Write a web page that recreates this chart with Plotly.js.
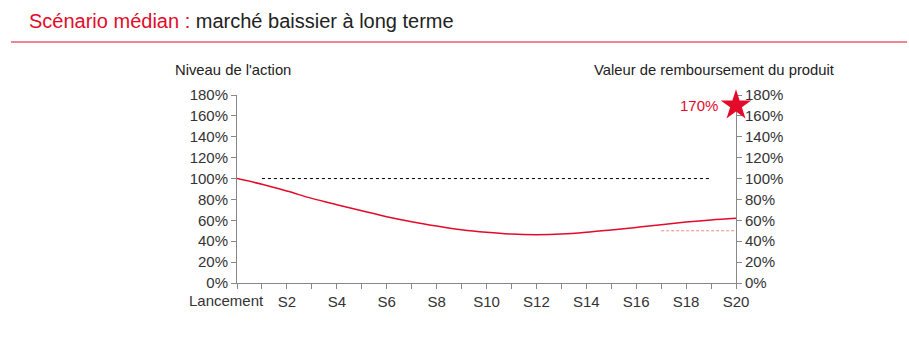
<!DOCTYPE html>
<html>
<head>
<meta charset="utf-8">
<script src="https://cdn.plot.ly/plotly-3.0.1.min.js"></script>
<style>html,body{margin:0;padding:0;background:#fff;}#chart{width:909px;height:339px;}</style>
</head>
<body>
<div id="chart"></div>
<script>
// Semesters 0 (Lancement) .. 20 (S20)
const semesters = [0,1,2,3,4,5,6,7,8,9,10,11,12,13,14,15,16,17,18,19,20];
const tickLabels = ["Lancement","","S2","","S4","","S6","","S8","","S10","","S12","","S14","","S16","","S18","","S20"];
// Niveau de l'action (%)
const stockLevel = [100,94.5,88,81,75,69.2,63.5,58.7,54.6,51,48.5,46.8,46.3,46.8,48.5,50.8,53.2,55.8,58.3,60.4,62];
// Barrière de remboursement (100%) de S1 à S19
const barrierX = [1,19];
const barrierY = [100,100];
// Barrière de protection (50%) de S17 à S20
const protectX = [17,20];
const protectY = [50,50];
// Valeur de remboursement du produit
const payoffX = [20];
const payoffY = [170];
const yTicks = [0,20,40,60,80,100,120,140,160,180];

const RED = '#e30a2a';
const TXT = '#333333';
const FONT = 'Liberation Sans, Arial, sans-serif';

const L = 237, R = 736, T = 95, B = 283;
const px = p => (p - L) / (R - L);
const py = p => (B - p) / (B - T);

const traces = [
  {x: barrierX, y: barrierY, type:'scatter', mode:'lines', line:{color:'#000', width:1, dash:'3px,3px'}, hoverinfo:'skip', showlegend:false},
  {x: protectX, y: protectY, type:'scatter', mode:'lines', yaxis:'y2', line:{color:'#e88a8a', width:1, dash:'3px,2px'}, hoverinfo:'skip', showlegend:false},
  {x: semesters, y: stockLevel, type:'scatter', mode:'lines', line:{color:RED, width:1.5, shape:'spline', smoothing:1}, showlegend:false},
  {x: payoffX, y: payoffY, type:'scatter', mode:'markers', yaxis:'y2', marker:{symbol:'star', size:23, color:RED}, cliponaxis:false, showlegend:false}
];

const axisCommon = {
  showgrid:false, zeroline:false, showline:true, linecolor:'#888', linewidth:1, layer:'below traces',
  ticks:'outside', ticklen:5, tickcolor:'#888', tickfont:{size:15, color:TXT, family:FONT}
};

// first label (Lancement) is drawn slightly left of its tick, as in the original
const xTickText = tickLabels.map((t, i) => i === 0 ? '' : t);

const layout = {
  width: 909, height: 339,
  margin: {l: L, r: 909 - R, t: T, b: 339 - B, pad: 0},
  paper_bgcolor: '#fff', plot_bgcolor: '#fff',
  font: {family: FONT, color: TXT, size: 15},
  showlegend: false,
  xaxis: Object.assign({range: [0, 20], tickmode:'array', tickvals: semesters, ticktext: xTickText}, axisCommon),
  yaxis: Object.assign({range: [0, 180], tickmode:'array', tickvals: yTicks, ticktext: yTicks.map(v => v + '%')}, axisCommon),
  yaxis2: Object.assign({range: [0, 180], overlaying:'y', side:'right', tickmode:'array', tickvals: yTicks, ticktext: yTicks.map(v => v + '%')}, axisCommon),
  shapes: [
    {type:'line', xref:'paper', yref:'paper', x0: px(11), x1: px(907), y0: py(42), y1: py(42), line:{color:RED, width:1}}
  ],
  annotations: [
    {xref:'paper', yref:'paper', x: px(27), y: py(21), xanchor:'left', yanchor:'middle', showarrow:false,
     text: '<span style="color:' + RED + '">Scénario médian :</span> marché baissier à long terme',
     font:{size:20, color:'#222', family:FONT}},
    {xref:'paper', yref:'paper', x: px(233), y: py(70), xanchor:'center', yanchor:'middle', showarrow:false,
     text: "Niveau de l'action", font:{size:14.8, color:'#222', family:FONT}},
    {xref:'paper', yref:'paper', x: px(714), y: py(70), xanchor:'center', yanchor:'middle', showarrow:false,
     text: 'Valeur de remboursement du produit', font:{size:14.8, color:'#222', family:FONT}},
    {x: semesters[0], xref:'x', yref:'paper', y: py(300), xanchor:'center', yanchor:'middle', xshift:-11, showarrow:false,
     text: tickLabels[0], font:{size:15, color:TXT, family:FONT}},
    {x: payoffX[0], y: payoffY[0], yref:'y2', xanchor:'right', yanchor:'middle', xshift:-16, showarrow:false,
     text: payoffY[0] + '%', font:{size:15, color:RED, family:FONT}}
  ]
};

Plotly.newPlot('chart', traces, layout, {staticPlot:true, displayModeBar:false});
</script>
</body>
</html>
